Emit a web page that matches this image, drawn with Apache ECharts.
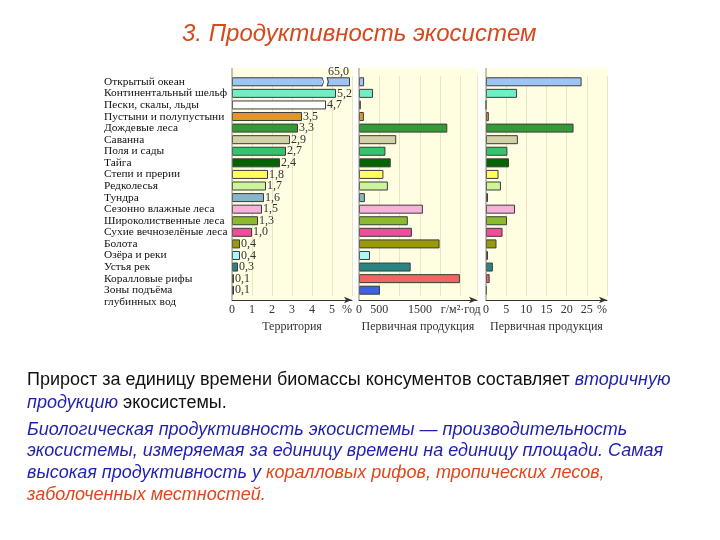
<!DOCTYPE html>
<html><head><meta charset="utf-8">
<script src="https://cdn.jsdelivr.net/npm/echarts@6/dist/echarts.min.js"></script>
<style>html,body{margin:0;padding:0;background:#fff}#c{width:720px;height:540px}</style>
</head><body><div id="c"></div>
<script>
const categories = ['Открытый океан','Континентальный шельф','Пески, скалы, льды','Пустыни и полупустыни','Дождевые леса','Саванна','Поля и сады','Тайга','Степи и прерии','Редколесья','Тундра','Сезонно влажные леса','Широколиственные леса','Сухие вечнозелёные леса','Болота','Озёра и реки','Устья рек','Коралловые рифы','Зоны подъёма\nглубинных вод'];
const territory = [65.0,5.2,4.7,3.5,3.3,2.9,2.7,2.4,1.8,1.7,1.6,1.5,1.3,1.0,0.4,0.4,0.3,0.1,0.1];
const productivity = [125,345,45,120,2170,915,650,780,600,710,145,1570,1200,1300,1980,270,1270,2480,515];
const productionShare = [23.7,7.7,0,0.7,21.7,7.9,5.3,5.7,3.1,3.7,0.5,7.2,5.2,4.1,2.6,0.5,1.7,0.9,0.2];
const barColors = ['#9cc4f4','#6ef0c4','#ffffff','#e0962c','#339a35','#d2d2a6','#34c46c','#046404','#ffff5a','#ccf49c','#88b6c8','#f8b2da','#8cba2c','#f04c9c','#9a9a06','#aaf8f8','#2a8484','#f26464','#3c62e2'];
const territoryTicks = [0,1,2,3,4,5];
const productivityTicks = {0:'0',500:'500',1500:'1500',2500:'г/м²·год'};
const shareTicks = [0,5,10,15,20,25];

const serif = '"Liberation Serif","DejaVu Serif",serif';
const sans = '"Liberation Sans",Arial,sans-serif';
const fmt = v => v.toFixed(1).replace('.', ',');
const TERR_MAX = 6;

const chart = echarts.init(document.getElementById('c'));
const grids = [
  {left:232, top:76, width:120, height:220},
  {left:359, top:76, width:118, height:220},
  {left:486, top:76, width:121, height:220}
];
function xAx(i, max, interval, formatter, name) {
  return {
    type:'value', gridIndex:i, min:0, max:max, interval:interval, offset:4,
    name:name, nameLocation:'middle', nameGap:21,
    nameTextStyle:{fontFamily:serif, fontSize:12, color:'#333'},
    axisLine:{show:true, lineStyle:{color:'#333', width:1}, symbol:['none','arrow'], symbolSize:[5,8]},
    axisTick:{show:false},
    axisLabel:{formatter:formatter, fontFamily:serif, fontSize:12, color:'#333', margin:4, showMaxLabel:true, alignMaxLabel:'right', hideOverlap:false},
    splitLine:{show:true, lineStyle:{color:'#e8e6c4', width:1}}
  };
}
function yAx(i, showLabels) {
  return {
    type:'category', gridIndex:i, data:categories, inverse:true,
    axisLine:{show:false}, axisTick:{show:false}, splitLine:{show:false},
    axisLabel:{show:showLabels, align:'left', margin:128, interval:0,
      fontFamily:serif, fontSize:11.4, color:'#111', lineHeight:12,
      formatter: v => v.indexOf('\n') >= 0 ? ' \n' + v : v}
  };
}
function items(values, cap) {
  return values.map((v, i) => ({
    value: cap !== undefined ? Math.min(v, cap) : v,
    itemStyle:{color:barColors[i], borderColor:'#3c3c3c', borderWidth:1}
  }));
}
const terrData = items(territory, TERR_MAX - 0.1);
terrData[0].label = {position:'insideTopRight', offset:[0,-12]};

chart.setOption({
  animation:false,
  title:{text:'3. Продуктивность экосистем', left:177, top:17,
    textStyle:{fontFamily:sans, fontStyle:'italic', fontWeight:'normal', fontSize:24, color:'#d8481c'}},
  grid:grids,
  xAxis:[
    xAx(0, TERR_MAX, 1, v => territoryTicks.indexOf(v) >= 0 ? String(v) : (v === TERR_MAX ? '%' : ''), 'Территория'),
    xAx(1, 2900, 500, v => productivityTicks[v] || '', 'Первичная продукция'),
    xAx(2, 30, 5, v => shareTicks.indexOf(v) >= 0 ? String(v) : (v === 30 ? '%' : ''), 'Первичная продукция')
  ],
  yAxis:[yAx(0,true), yAx(1,false), yAx(2,false)],
  series:[
    {type:'bar', xAxisIndex:0, yAxisIndex:0, barWidth:9, data:terrData,
      label:{show:true, position:'right', distance:1, fontFamily:serif, fontSize:12, color:'#333',
        formatter: p => fmt(territory[p.dataIndex])}},
    {type:'bar', xAxisIndex:1, yAxisIndex:1, barWidth:9, data:items(productivity)},
    {type:'bar', xAxisIndex:2, yAxisIndex:2, barWidth:9, data:items(productionShare)}
  ]
});

// decorations: panel backgrounds, vertical axis lines, break mark, text
const gfx = [];
grids.forEach(g => {
  gfx.push({type:'rect', z:-10, silent:true, shape:{x:g.left-1, y:68, width:g.width+2, height:232}, style:{fill:'#fffde2'}});
  gfx.push({type:'line', z:10, silent:true, shape:{x1:g.left, y1:68, x2:g.left, y2:300}, style:{stroke:'#8a8a8a', lineWidth:1}});
});
const bp = chart.convertToPixel({xAxisIndex:0, yAxisIndex:0}, [4.5, categories[0]]);
gfx.push({type:'rect', z:20, silent:true, shape:{x:bp[0], y:bp[1]-5.5, width:5, height:11}, style:{fill:'#ffffff'}});
[0,5].forEach(dx => {
  gfx.push({type:'bezierCurve', z:21, silent:true,
    shape:{x1:bp[0]+dx, y1:bp[1]-4.5, x2:bp[0]+dx, y2:bp[1]+4.5, cpx1:bp[0]+dx+3, cpy1:bp[1]},
    style:{stroke:'#3c3c3c', lineWidth:1, fill:null}});
});

const blue = '#1f1fb4', red = '#e0461a';
const FS = 18;
const rich = {
  n:{fontFamily:sans, fontSize:FS, fill:'#111'},
  b:{fontFamily:sans, fontSize:FS, fontStyle:'italic', fill:blue},
  r:{fontFamily:sans, fontSize:FS, fontStyle:'italic', fill:red}
};
const lines = [
  [380, '{n|Прирост за единицу времени биомассы консументов составляет }{b|вторичную}'],
  [403, '{b|продукцию}{n| экосистемы.}'],
  [430, '{b|Биологическая продуктивность экосистемы — производительность}'],
  [451, '{b|экосистемы, измеряемая за единицу времени на единицу площади. Самая}'],
  [473, '{b|высокая продуктивность у }{r|коралловых рифов, тропических лесов,}'],
  [495, '{r|заболоченных местностей.}']
];
lines.forEach(([y, t]) => {
  gfx.push({type:'text', silent:true, x:27, y:y, style:{text:t, rich:rich, verticalAlign:'middle', align:'left'}});
});
chart.setOption({graphic:gfx});
</script></body></html>
